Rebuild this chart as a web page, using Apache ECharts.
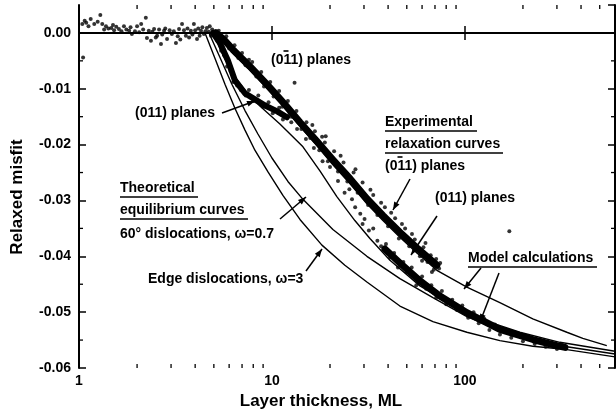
<!DOCTYPE html>
<html>
<head>
<meta charset="utf-8">
<script src="https://cdn.jsdelivr.net/npm/echarts@6.0.0/dist/echarts.min.js"></script>
<style>
  html, body { margin: 0; padding: 0; background: #fff; }
  #chart { width: 616px; height: 415px; }
</style>
</head>
<body>
<div id="chart"></div>
<script>
// axes
const xMin = 1, xMax = 600;
const yMin = -0.06, yMax = 0.005;
const xLabels = [1, 10, 100];
const xMinorTicks = [2, 3, 4, 5, 6, 7, 8, 9, 20, 30, 40, 50, 60, 70, 80, 90, 200, 300, 400, 500];
const yMinorTicks = [-0.055, -0.045, -0.035, -0.025, -0.015, -0.005];

// theoretical equilibrium curves
const theoryEdge = [[1.33, 0], [4.5, 0], [5.07, -0.0046], [5.71, -0.0092], [6.43, -0.0135], [7.25, -0.0174],
  [8.16, -0.0210], [9.54, -0.0249], [11.4, -0.0291], [13.97, -0.0334], [18.16, -0.0380], [23.88, -0.0416],
  [31.06, -0.0446], [46.05, -0.0489], [68.3, -0.0517], [102.4, -0.0536], [151.8, -0.0551], [225, -0.0561],
  [337.7, -0.0567], [600, -0.0580]];
const theory60 = [[1.33, 0], [4.72, 0], [5.38, -0.0044], [6.2, -0.0092], [7.25, -0.0139], [8.46, -0.0181],
  [10.0, -0.0224], [12.1, -0.0266], [14.48, -0.0298], [20.7, -0.0352], [31.06, -0.0400], [46.05, -0.0440],
  [68.3, -0.0474], [102.4, -0.0508], [151.8, -0.0533], [225, -0.0550], [337.7, -0.0562], [600, -0.0575]];

// model calculations
const modelUpper = [[1.33, 0], [5.25, 0], [6.28, -0.0036], [7.69, -0.0067], [9.42, -0.0099], [11.54, -0.0133],
  [13.97, -0.0167], [17.11, -0.0202], [20.7, -0.0236], [25.4, -0.0270], [31.06, -0.0306], [37.6, -0.0336],
  [46.05, -0.0366], [56.4, -0.0394], [71.6, -0.0425], [102.4, -0.0455], [151.8, -0.0483], [225, -0.0512],
  [337.7, -0.0536], [408.7, -0.0547], [544, -0.0560]];
const modelLower = [[1.33, 0], [4.95, 0], [5.51, -0.0036], [6.2, -0.0071], [7.25, -0.0103], [8.66, -0.0131],
  [11.0, -0.0163], [14.48, -0.0204], [17.73, -0.0247], [21.7, -0.0293], [26.9, -0.0336], [32.2, -0.0368],
  [40.9, -0.0407], [58.5, -0.0453], [83.6, -0.0485], [119.6, -0.0512], [192.7, -0.0536], [310.6, -0.0554],
  [600, -0.0570]];

// experimental relaxation curves: dense cores
const bandUpper = [[5.13, 0], [5.71, -0.0014], [6.28, -0.0030], [7.69, -0.0060], [9.42, -0.0092],
  [11.54, -0.0126], [13.97, -0.0160], [17.11, -0.0194], [20.7, -0.0227], [25.4, -0.0261], [31.06, -0.0297],
  [37.6, -0.0327], [46.05, -0.0357], [56.4, -0.0385], [71.6, -0.0416]];
const bandLowerStart = [[4.95, 0], [5.38, -0.0018], [5.92, -0.0050], [6.43, -0.0085], [7.25, -0.0108],
  [8.16, -0.0119], [9.31, -0.0131], [10.6, -0.0140], [11.96, -0.0151]];
const bandLowerEnd = [[38.5, -0.0387], [46.05, -0.0412], [58.5, -0.0444], [74.2, -0.0471], [102.4, -0.0501],
  [151.8, -0.0531], [225, -0.0549], [299.7, -0.0560], [330, -0.0563]];

// experimental points around the cores
const plateauDots = [[1.04, 0.0016], [1.05, -0.0044], [1.07, 0.0022], [1.09, 0.0018], [1.12, 0.0012],
  [1.15, 0.0025], [1.2, 0.0016], [1.25, 0.0020], [1.29, 0.0032], [1.32, 0.0016], [1.35, 0.0006],
  [1.38, 0.0012], [1.42, 0.0008], [1.47, 0.0009], [1.5, 0.0014], [1.52, 0.0005], [1.56, 0.0011],
  [1.61, 0.0007], [1.66, 0.0003], [1.71, 0.0012], [1.76, 0.0006], [1.82, 0.0004], [1.85, 0.0010],
  [1.88, -0.0002], [1.95, 0.0003], [2.0, 0.0012], [2.05, 0.0001], [2.1, 0.0016], [2.15, 0.0006],
  [2.22, 0.0027], [2.25, -0.0009], [2.3, 0.0004], [2.36, -0.0014], [2.4, 0.0002], [2.45, 0.0007],
  [2.5, -0.0008], [2.54, -0.0005], [2.6, 0.0006], [2.66, -0.0020], [2.7, -0.0003], [2.76, 0.0004],
  [2.8, 0.0008], [2.86, -0.0011], [2.95, 0.0005], [3.03, -0.0002], [3.1, 0.0003], [3.18, -0.0018],
  [3.25, -0.0006], [3.3, 0.0007], [3.35, -0.0012], [3.42, 0.0016], [3.5, 0.0005], [3.58, -0.0005],
  [3.65, 0.0008], [3.72, -0.0008], [3.8, 0.0004], [3.87, -0.0003], [3.94, 0.0016], [4.0, 0.0005],
  [4.09, -0.0011], [4.15, 0.0008], [4.22, -0.0005], [4.29, 0.0004], [4.36, 0.0010], [4.44, -0.0002],
  [4.52, 0.0003], [4.6, 0.0009], [4.7, 0.0002], [4.76, 0.0012], [4.83, -0.0005], [4.9, 0.0006],
  [5.0, 0.0], [5.1, 0.0003], [5.2, -0.0003]];
const upperDots = [[5.3, 0.0004], [5.5, -0.0012], [5.8, -0.0006], [6.0, -0.0028], [6.4, -0.0022],
  [6.7, -0.0045], [7.0, -0.0036], [7.3, -0.0058], [7.6, -0.0048], [7.9, -0.0052], [8.3, -0.0078],
  [8.8, -0.0070], [9.1, -0.0096], [9.8, -0.0088], [10.2, -0.0114], [10.9, -0.0104], [11.3, -0.0132],
  [12.1, -0.0122], [12.6, -0.0150], [13.1, -0.0089], [13.4, -0.0140], [14.2, -0.0172], [15.1, -0.0160],
  [15.8, -0.0188], [16.2, -0.0165], [16.7, -0.0176], [17.6, -0.0210], [18.2, -0.0186], [18.8, -0.0196],
  [19.0, -0.0185], [19.5, -0.0230], [21.0, -0.0212], [22.0, -0.0248], [22.7, -0.0220], [23.5, -0.0232],
  [24.6, -0.0266], [26.5, -0.0250], [27.1, -0.0244], [27.8, -0.0286], [29.5, -0.0268], [31.5, -0.0308],
  [32.4, -0.0281], [33.5, -0.0290], [35.2, -0.0326], [36.8, -0.0304], [38.5, -0.0312], [40.0, -0.0346],
  [41.5, -0.0322], [43.5, -0.0332], [45.5, -0.0368], [47.2, -0.0342], [49.0, -0.0350], [51.5, -0.0382],
  [53.2, -0.0360], [55.0, -0.0370], [58.5, -0.0400], [60.0, -0.0408], [61.0, -0.0384], [62.5, -0.0376],
  [64.0, -0.0410], [66.5, -0.0398], [67.5, -0.0428], [69.0, -0.0424], [71.0, -0.0405], [73.5, -0.0422],
  [74.5, -0.0412]];
const lowerDots = [[5.2, -0.0014], [5.45, -0.0032], [5.65, -0.0040], [5.85, -0.0060], [6.1, -0.0068],
  [6.3, -0.0088], [6.6, -0.0094], [6.9, -0.0102], [7.3, -0.0112], [7.6, -0.0102], [8.0, -0.0122],
  [8.5, -0.0112], [9.0, -0.0132], [9.6, -0.0124], [10.1, -0.0144], [10.9, -0.0134], [11.4, -0.0155],
  [12.3, -0.0146], [12.6, -0.0160],
  [13.5, -0.0172], [15.0, -0.0190], [16.5, -0.0206], [18.3, -0.0230], [20.0, -0.0240], [22.0, -0.0265],
  [23.8, -0.0286], [25.2, -0.0280], [26.0, -0.0298], [27.0, -0.0312], [28.7, -0.0324], [29.5, -0.0342],
  [30.2, -0.0333], [31.8, -0.0354], [33.5, -0.0350], [35.2, -0.0372], [36.8, -0.0382],
  [39, -0.0378], [41, -0.0402], [43, -0.0394], [45, -0.0420], [48, -0.0410], [50, -0.0428], [53, -0.0420],
  [56, -0.0452], [60, -0.0436], [63, -0.0458], [67, -0.0452], [71, -0.0474], [76, -0.0462], [80, -0.0486],
  [86, -0.0478], [91, -0.0496], [97, -0.0488], [104, -0.0510], [111, -0.0500], [118, -0.0520],
  [126, -0.0512], [134, -0.0532], [143, -0.0522], [152, -0.0540], [162, -0.0530], [170, -0.0355],
  [174, -0.0546], [186, -0.0538], [200, -0.0552], [214, -0.0544], [230, -0.0557], [246, -0.0550],
  [262, -0.0562], [280, -0.0555], [300, -0.0566], [318, -0.0558], [335, -0.0565]];

const FONT = '"Liberation Sans", Arial, sans-serif';
const chart = echarts.init(document.getElementById('chart'), null, { renderer: 'canvas' });

function curve(data) {
  return { type: 'line', data, showSymbol: false, silent: true, z: 3,
    lineStyle: { color: '#000', width: 1.4 } };
}
function band(data, width) {
  return { type: 'line', data, showSymbol: false, silent: true, z: 4,
    lineStyle: { color: '#000', width, cap: 'round', join: 'round' } };
}
function dots(data) {
  return { type: 'scatter', data, symbolSize: 4, silent: true, z: 5, itemStyle: { color: '#000' } };
}

const axisLine = { lineStyle: { color: '#000', width: 2 } };
const axisTick = { inside: true, length: 7, lineStyle: { color: '#000', width: 1.5 } };
const labelStyle = { color: '#000', fontWeight: 'bold', fontSize: 14, fontFamily: FONT };

chart.setOption({
  animation: false,
  grid: { left: 79, right: 1, top: 5, bottom: 45 },
  xAxis: [{
    type: 'log', logBase: 10, min: xMin, max: xMax, position: 'bottom',
    axisLine, axisTick, splitLine: { show: false },
    axisLabel: Object.assign({}, labelStyle, { margin: 6, showMaxLabel: false,
      formatter: v => xLabels.includes(Math.round(v)) ? String(Math.round(v)) : '' }),
    name: 'Layer thickness, ML', nameLocation: 'middle', nameGap: 25,
    nameTextStyle: { color: '#000', fontWeight: 'bold', fontSize: 17, fontFamily: FONT, padding: [0, 52, 0, 0] }
  }, {
    type: 'log', logBase: 10, min: xMin, max: xMax, position: 'top',
    axisLine, axisTick, axisLabel: { show: false }, splitLine: { show: false }
  }],
  yAxis: [{
    type: 'value', min: yMin, max: yMax, interval: 0.01,
    axisLine, axisTick, splitLine: { show: false },
    axisLabel: Object.assign({}, labelStyle, { margin: 8, showMaxLabel: false,
      formatter: v => (Math.abs(v) < 1e-9 ? 0 : v).toFixed(2) })
  }, {
    type: 'value', min: yMin, max: yMax, interval: 0.01, position: 'right',
    axisLine, axisTick, axisLabel: { show: false }, splitLine: { show: false }
  }],
  series: [
    curve(theoryEdge), curve(theory60), curve(modelUpper), curve(modelLower),
    band(bandUpper, 7), band(bandLowerStart, 6), band(bandLowerEnd, 7),
    dots(plateauDots), dots(upperDots), dots(lowerDots),
    {
      type: 'custom', silent: true, clip: false, z: 6,
      data: xMinorTicks.map(v => [v, yMin]),
      renderItem: (params, api) => {
        const b = api.coord([api.value(0), yMin]);
        const t = api.coord([api.value(0), yMax]);
        const st = { stroke: '#000', lineWidth: 1.3 };
        return { type: 'group', children: [
          { type: 'line', shape: { x1: b[0], y1: b[1], x2: b[0], y2: b[1] - 4 }, style: st },
          { type: 'line', shape: { x1: t[0], y1: t[1], x2: t[0], y2: t[1] + 4 }, style: st }
        ] };
      }
    },
    {
      type: 'custom', silent: true, clip: false, z: 6,
      data: yMinorTicks.map(v => [xMin, v]),
      renderItem: (params, api) => {
        const l = api.coord([xMin, api.value(1)]);
        const r = api.coord([xMax, api.value(1)]);
        const st = { stroke: '#000', lineWidth: 1.3 };
        return { type: 'group', children: [
          { type: 'line', shape: { x1: l[0], y1: l[1], x2: l[0] + 4, y2: l[1] }, style: st },
          { type: 'line', shape: { x1: r[0], y1: r[1], x2: r[0] - 4, y2: r[1] }, style: st }
        ] };
      }
    }
  ]
});

// annotations
const NOTE_FONT = 'bold 14px ' + FONT;
function text(str, x, y) {
  return { type: 'text', x, y, silent: true, z: 10,
    style: { text: str, font: NOTE_FONT, fill: '#000', verticalAlign: 'middle' } };
}
function underline(x1, x2, y) {
  return { type: 'line', silent: true, z: 10, shape: { x1, y1: y, x2, y2: y }, style: { stroke: '#000', lineWidth: 1.3 } };
}
function arrow(x1, y1, x2, y2) {
  const a = Math.atan2(y2 - y1, x2 - x1), L = 8, W = 3;
  const pts = [[x2, y2],
    [x2 - L * Math.cos(a) + W * Math.sin(a), y2 - L * Math.sin(a) - W * Math.cos(a)],
    [x2 - L * Math.cos(a) - W * Math.sin(a), y2 - L * Math.sin(a) + W * Math.cos(a)]];
  return [
    { type: 'line', silent: true, z: 10, shape: { x1, y1, x2, y2 }, style: { stroke: '#000', lineWidth: 1.5 } },
    { type: 'polygon', silent: true, z: 10, shape: { points: pts }, style: { fill: '#000' } }
  ];
}
function overbar(x, y) {
  return { type: 'line', silent: true, z: 10, shape: { x1: x, y1: y, x2: x + 5, y2: y }, style: { stroke: '#000', lineWidth: 1.6 } };
}

const elements = [
  { type: 'text', x: 17, y: 197, rotation: Math.PI / 2, silent: true,
    style: { text: 'Relaxed misfit', font: 'bold 17px ' + FONT, fill: '#000', align: 'center', verticalAlign: 'middle' } },
  text('(011) planes', 271, 60), overbar(283.5, 51),
  text('(011) planes', 135, 113),
  text('Experimental', 385, 122), underline(385, 477, 131),
  text('relaxation curves', 385, 144), underline(385, 503, 153),
  text('(011) planes', 385, 166), overbar(397.5, 157),
  text('(011) planes', 435, 198),
  text('Theoretical', 120, 188), underline(120, 198, 197),
  text('equilibrium curves', 120, 210), underline(120, 248, 219),
  text('60\u00b0 dislocations, \u03c9=0.7', 120, 234),
  text('Edge dislocations, \u03c9=3', 148, 279),
  text('Model calculations', 468, 258), underline(468, 597, 267)
].concat(
  arrow(222, 113, 255, 101),
  arrow(410, 179, 393, 210),
  arrow(437, 216, 411, 255),
  arrow(280, 219, 306, 197),
  arrow(306, 271, 322, 249),
  arrow(481, 268, 464, 289),
  arrow(499, 273, 480, 322)
);
chart.setOption({ graphic: { elements } });
</script>
</body>
</html>
